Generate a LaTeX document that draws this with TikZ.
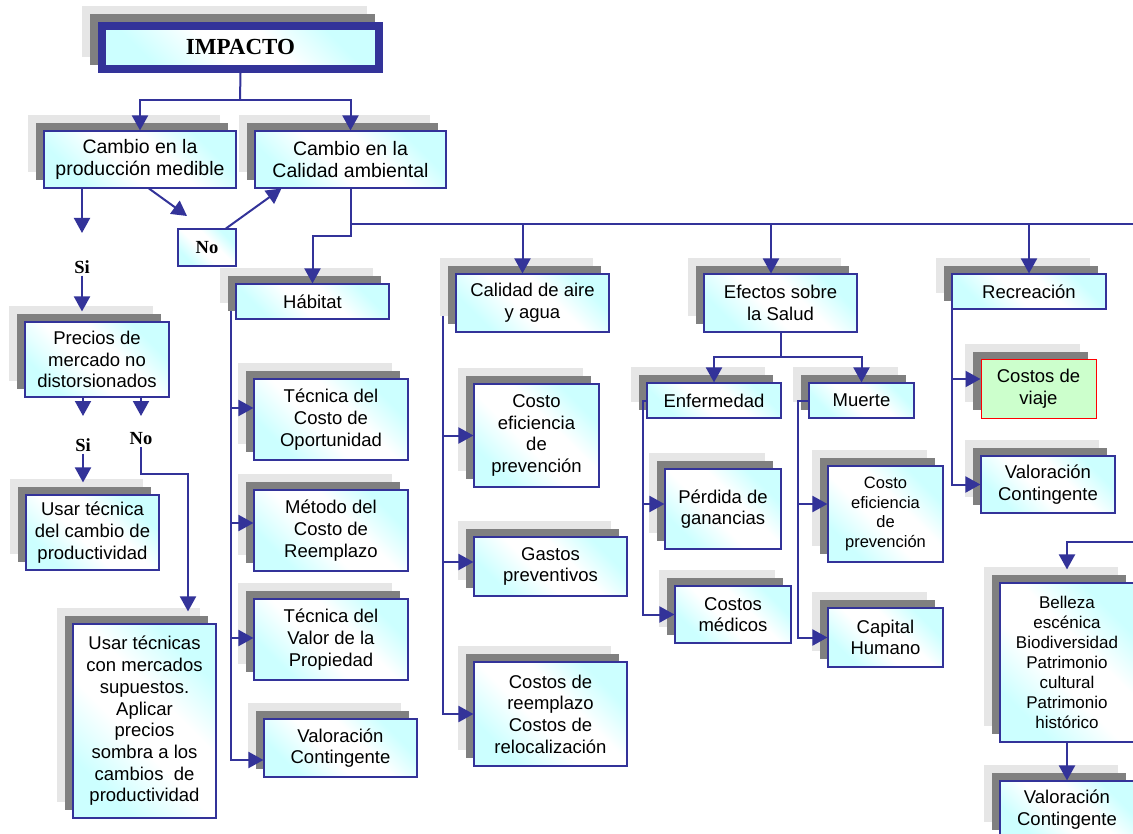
\documentclass[tikz,border=0pt]{standalone}
\usepackage{fontspec}
\setmainfont{Liberation Sans}
\newfontfamily\serifbold{Liberation Serif}
\usepackage{xcolor}
\usepackage{tikz}
\usetikzlibrary{arrows.meta, shadows, positioning}

\definecolor{boxline}{HTML}{333399}
\definecolor{cyanlt}{HTML}{CCFFFF}
\definecolor{shadelt}{HTML}{E6E6E6}
\definecolor{shadedk}{HTML}{808080}
\definecolor{greenlt}{HTML}{CCFFCC}

\pgfdeclarehorizontalshading{paleblue}{100bp}{color(0bp)=(cyanlt); color(27bp)=(cyanlt); color(44bp)=(white); color(58bp)=(white); color(73bp)=(cyanlt); color(100bp)=(cyanlt)}

\tikzset{
  shadowpair/.style={
    drop shadow={shadow xshift=-16pt, shadow yshift=16pt, opacity=1, fill=shadelt, draw=none},
    drop shadow={shadow xshift=-8pt, shadow yshift=8pt, opacity=1, fill=shadedk, draw=none}},
  wh/.style n args={2}{minimum width=#1pt, minimum height=#2pt},
  boxbase/.style={align=center, inner sep=2pt, font=\fontsize{18.5}{21.7}\selectfont},
  flatbox/.style={boxbase, draw=boxline, line width=1.1pt, shading=paleblue, shading angle=45},
  box/.style={flatbox, shadowpair},
  bigtext/.style={font=\fontsize{19.5}{22}\selectfont},
  smalltext/.style={font=\fontsize{16.5}{19.7}\selectfont},
  yesno/.style={inner sep=2pt, font=\serifbold\bfseries\fontsize{18.5}{20}\selectfont},
  impbox/.style={draw=boxline, line width=8pt, shading=paleblue, shading angle=45,
    inner sep=0pt, font=\serifbold\bfseries\fontsize{23}{26}\selectfont,
    drop shadow={shadow xshift=-16pt, shadow yshift=16pt, opacity=1, fill=shadelt, draw=shadelt, line width=8pt},
    drop shadow={shadow xshift=-8pt, shadow yshift=8pt, opacity=1, fill=shadedk, draw=shadedk, line width=8pt}},
  wire/.style={draw=boxline, line width=2pt},
  arr/.style={wire, -{Triangle[length=15pt, width=16pt]}}
}

\begin{document}
\begin{tikzpicture}[x=1pt, y=-1pt]
    \useasboundingbox (0,0) rectangle (1133,834);

    % =================================================================
    % 1. CABECERA Y PRIMER NIVEL
    % =================================================================
    \node[impbox, wh={277}{43}] (imp) at (240.5,47.5) {IMPACTO};

    \node[box, bigtext, wh={192}{57}] (cprod) at (140,159.5) {Cambio en la\\producción medible};
    \node[box, bigtext, wh={191}{57}] (ccal) at (350.5,159.5) {Cambio en la\\Calidad ambiental};
    \node[flatbox, yesno, wh={58}{37}] (nob) at (207,247.5) {No};

    % =================================================================
    % 2. RAMA DE LA PRODUCCIÓN (izquierda)
    % =================================================================
    \node[yesno] (si1) at (82,267) {Si};
    \node[box, wh={144}{75}] (prec) at (97,359.5) {Precios de\\mercado no\\distorsionados};
    \node[yesno] (si2) at (83,445) {Si};
    \node[yesno] (no2) at (141,439) {No};
    \node[box, wh={133}{75}] (usa) at (92.5,532.5) {Usar técnica\\del cambio de\\productividad};
    \node[box, wh={143}{194}] (sup) at (144.5,721)
        {Usar técnicas\\con mercados\\supuestos.\\Aplicar\\precios\\sombra a los\\cambios~ de\\productividad};

    % =================================================================
    % 3. COLUMNAS DE LA CALIDAD AMBIENTAL
    % =================================================================
    % Hábitat
    \node[box, wh={153}{35}] (hab) at (312.5,301.5) {Hábitat};
    \node[box, wh={154}{81}] (tco) at (331,419.5) {Técnica del\\Costo de\\Oportunidad};
    \node[box, wh={154}{81}] (mcr) at (331,530.5) {Método del\\Costo de\\Reemplazo};
    \node[box, wh={154}{81}] (tvp) at (331,639.5) {Técnica del\\Valor de la\\Propiedad};
    \node[box, wh={153}{58}] (valH) at (340.5,748) {Valoración\\Contingente};

    % Calidad de aire y agua
    \node[box, wh={153}{58}] (aire) at (532.5,303) {Calidad de aire\\y agua};
    \node[box, wh={125}{103}] (cep) at (536.5,435.5) {Costo\\eficiencia\\de\\prevención};
    \node[box, wh={153}{59}] (gas) at (550.5,566.5) {Gastos\\preventivos};
    \node[box, wh={153}{104}] (reem) at (550.5,714) {Costos de\\reemplazo\\Costos de\\relocalización};

    % Efectos sobre la salud
    \node[box, wh={153}{58}] (efe) at (780.5,303) {Efectos sobre\\la Salud};
    \node[box, wh={134}{35}] (enf) at (714,400.5) {Enfermedad};
    \node[box, wh={105}{35}] (mue) at (861.5,400.5) {Muerte};
    \node[box, wh={116}{80}] (per) at (723,509) {Pérdida de\\ganancias};
    \node[box, wh={116}{57}] (med) at (733,614.5) {Costos\\médicos};
    \node[box, smalltext, wh={115}{96}] (cem) at (885.5,514) {Costo\\eficiencia\\de\\prevención};
    \node[box, wh={115}{59}] (cap) at (885.5,637.5) {Capital\\Humano};

    % Recreación
    \node[box, wh={154}{35}] (rec) at (1029,291.5) {Recreación};
    \node[boxbase, shadowpair, fill=greenlt, draw=red, line width=1pt, wh={115}{58}] (via) at (1038.5,389) {Costos de\\viaje};
    \node[box, wh={134}{57}] (valR) at (1048,484.5) {Valoración\\Contingente};
    \node[box, font=\fontsize{17}{20}\selectfont, wh={134}{159}] (bel) at (1067,662.5)
        {Belleza\\escénica\\Biodiversidad\\Patrimonio\\cultural\\Patrimonio\\histórico};
    \node[box, wh={134}{57}] (valB) at (1067,809.5) {Valoración\\Contingente};

    % =================================================================
    % 4. PUNTOS AUXILIARES
    % =================================================================
    \coordinate (split) at (240,100);
    \coordinate (siTip) at (82,233);
    \coordinate (noTip) at (187,216);
    \coordinate (si2Tip) at (83,416);
    \coordinate (no2Tip) at (141,416);
    \coordinate (noKnee) at (188,474);
    \coordinate (busL) at (350.5,224);
    \coordinate (busR) at (1140,224);
    \coordinate (habKnee) at (350.5,236);
    \coordinate (habSide) at (231,311);
    \coordinate (aireSide) at (443,316);
    \coordinate (efeKnee) at (780.5,357);
    \coordinate (enfSide) at (643,400.5);
    \coordinate (mueSide) at (798,400.5);
    \coordinate (recSide) at (952,309);
    \coordinate (belIn) at (1140,542);

    % =================================================================
    % 5. CONECTORES
    % =================================================================
    \draw[wire] (imp.south) -- (split);
    \draw[arr] (split) -| (cprod.north);
    \draw[arr] (split) -| (ccal.north);

    % producción medible
    \draw[arr] (cprod.south -| siTip) -- (siTip);
    \draw[arr] ([xshift=9pt]cprod.south) -- (noTip);
    \draw[arr] ([xshift=19pt]nob.north) -- ([xshift=27pt]ccal.south west);
    \draw[arr, shorten >=10pt] (si1.south) -- (prec.north -| si1);
    \draw[arr] (prec.south -| si2Tip) -- (si2Tip);
    \draw[arr] (prec.south -| no2Tip) -- (no2Tip);
    \draw[arr, shorten >=12pt] (si2.south) -- (usa.north -| si2);
    \draw[arr, shorten >=12pt] (no2.south) |- (noKnee) -- (noKnee |- sup.north);

    % calidad ambiental
    \draw[wire] (ccal.south) -- (busL) -- (busR);
    \draw[arr] (busL) -- (habKnee) -| (hab.north);
    \draw[arr] ([xshift=-10pt]aire.north |- busL) -- ([xshift=-10pt]aire.north);
    \draw[arr] ([xshift=-9.5pt]efe.north |- busL) -- ([xshift=-9.5pt]efe.north);
    \draw[arr] (rec.north |- busL) -- (rec.north);

    % Hábitat
    \draw[arr] (habSide) |- (valH.west |- 0,760);
    \draw[arr] (habSide |- 0,408) -- (tco.west |- 0,408);
    \draw[arr] (habSide |- 0,523) -- (mcr.west |- 0,523);
    \draw[arr] (habSide |- 0,638) -- (tvp.west |- 0,638);

    % Calidad de aire y agua
    \draw[arr] (aireSide) |- (reem.west);
    \draw[arr] (aireSide |- cep.west) -- (cep.west);
    \draw[arr] (aireSide |- 0,562) -- (gas.west |- 0,562);

    % Efectos sobre la salud
    \draw[wire] (efe.south) -- (efeKnee);
    \draw[arr] (efeKnee) -| (enf.north);
    \draw[arr] (efeKnee) -| (mue.north);
    \draw[arr] (enf.west) -- (enfSide) |- (med.west);
    \draw[arr] (enfSide |- 0,504) -- (per.west |- 0,504);
    \draw[arr] (mue.west) -- (mueSide) |- (cap.west);
    \draw[arr] (mueSide |- 0,504) -- (cem.west |- 0,504);

    % Recreación
    \draw[arr] (recSide) |- (valR.west);
    \draw[arr] (recSide |- 0,379) -- (via.west |- 0,379);
    \draw[arr, shorten >=13pt] (belIn) -| (bel.north);
    \draw[arr] (bel.south) -- (valB.north);

\end{tikzpicture}
\end{document}
